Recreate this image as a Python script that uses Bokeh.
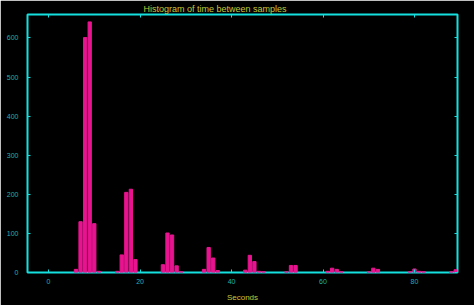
from bokeh.plotting import figure
from bokeh.models import LinearAxis, Range1d, FixedTicker, ColumnDataSource
from bokeh.embed import file_html
from bokeh.resources import INLINE

seconds = [6, 7, 8, 9, 10, 11,
           15, 16, 17, 18, 19,
           25, 26, 27, 28, 29,
           34, 35, 36, 37,
           43, 44, 45, 46, 47,
           52, 53, 54,
           61, 62, 63, 64,
           70, 71, 72,
           79, 80, 81, 82,
           88, 89]
counts = [8, 130, 601, 641, 125, 3,
          3, 45, 205, 213, 33,
          20, 101, 96, 17, 2,
          8, 64, 37, 5,
          6, 44, 28, 3, 2,
          2, 18, 18,
          3, 11, 8, 2,
          2, 11, 8,
          2, 9, 3, 2,
          2, 7]
x_ticks = [0, 20, 40, 60, 80]
y_ticks = [0, 100, 200, 300, 400, 500, 600]

CYAN = "#14e0e0"
LABEL = "#1db3b3"
YELLOW = "#c8c83a"
PINK = "#e8148f"

src = ColumnDataSource(dict(x=seconds, top=counts))

p = figure(width=474, height=305, output_backend="svg", toolbar_location=None,
           x_range=Range1d(-4.6, 89.4), y_range=Range1d(0, 660),
           background_fill_color="black", border_fill_color="black",
           min_border_left=27, min_border_right=17, min_border_top=14, min_border_bottom=33,
           x_axis_location=None, y_axis_location=None)

p.title.text = "Histogram of time  between samples"
p.title.text_color = YELLOW
p.title.text_font = "Liberation Sans"
p.title.text_font_size = "9px"
p.title.text_font_style = "normal"
p.title.align = "left"
p.title.offset = 116
p.title.standoff = 2

p.vbar(x="x", top="top", width=0.72, bottom=0, source=src, color=PINK)

p.xgrid.visible = False
p.ygrid.visible = False
p.outline_line_color = CYAN
p.outline_line_width = 2

def style(ax, show_labels):
    ax.axis_line_color = None
    ax.major_tick_line_color = CYAN
    ax.major_tick_in = 3
    ax.major_tick_out = 0
    ax.minor_tick_line_color = None
    ax.major_label_text_color = LABEL if show_labels else None
    ax.major_label_text_font = "Liberation Sans"
    ax.major_label_text_font_size = "7px" if show_labels else "0px"
    ax.major_label_standoff = 6 if show_labels else 0

xb = LinearAxis(ticker=FixedTicker(ticks=x_ticks))
style(xb, True)
xb.axis_label = "Seconds"
xb.axis_label_text_color = YELLOW
xb.axis_label_text_font = "Liberation Sans"
xb.axis_label_text_font_size = "8px"
xb.axis_label_text_font_style = "normal"
xb.axis_label_standoff = 6
p.add_layout(xb, "below")

yl = LinearAxis(ticker=FixedTicker(ticks=y_ticks))
style(yl, True)
yl.major_label_standoff = 9
p.add_layout(yl, "left")

xa = LinearAxis(ticker=FixedTicker(ticks=x_ticks))
style(xa, False)
p.add_layout(xa, "above")

yr = LinearAxis(ticker=FixedTicker(ticks=y_ticks))
style(yr, False)
p.add_layout(yr, "right")

open("out.html", "w").write(file_html(p, INLINE))
